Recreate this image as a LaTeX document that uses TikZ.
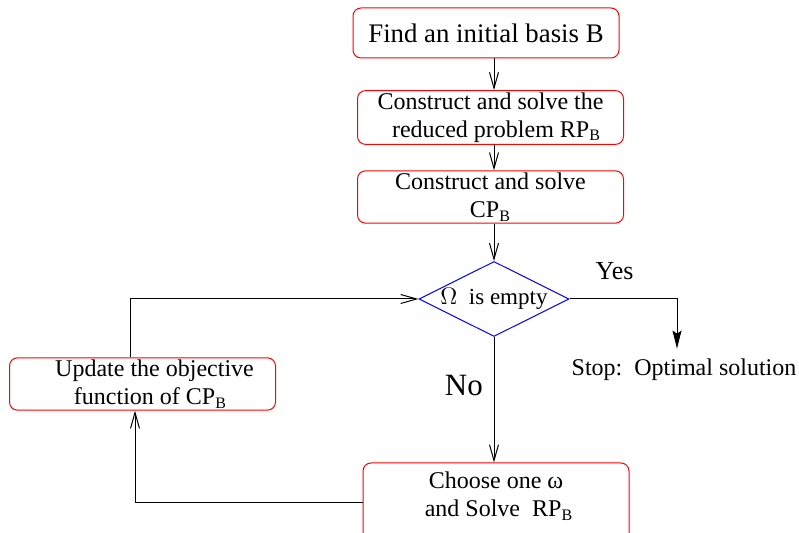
\documentclass[tikz,border=0pt]{standalone}
\usepackage{fontspec}
\setmainfont{Liberation Serif}
\usetikzlibrary{shapes.geometric, positioning, arrows.meta}
\tikzset{
>={Straight Barb[length=8pt,width=4.5pt]}, % thin open arrow heads
every node/.style={font=\fontsize{12}{14}\selectfont}, % text size of the boxes
task/.style={draw=red, rounded corners=4pt, minimum width=133pt, minimum height=25pt, align=center, inner sep=1pt}, % the red boxes
test/.style={diamond, draw=blue, shape aspect=2, minimum width=75pt, minimum height=37.5pt, inner sep=0pt, font=\fontsize{11.5}{13}\selectfont}, % the decision
}

\begin{document}
\begin{tikzpicture}[x=0.5pt, y=-0.5pt, line width=0.5pt]
    \useasboundingbox (0,0) rectangle (799,533);
    \clip (0,0) rectangle (799,533);

    \node[task, font=\fontsize{13.4}{15}\selectfont] (find) at (486,33) {Find an initial basis B};
    \node[task, minimum height=25.5pt] (rp) at (490.5,117.5) {Construct and solve the\\ \ \ reduced problem RP\textsubscript{B}};
    \node[task] (cp) at (490.5,197) {Construct and solve\\CP\textsubscript{B}};
    \node[test] (empty) at (494,299) {$\Omega$\ \ is empty};
    \node[inner sep=5pt] (stop) at (684,370) {Stop:\ \ Optimal solution};
    \node[task] (update) at (142.5,384) {\hspace*{12pt}Update the objective\\ \hspace*{8pt}function of CP\textsubscript{B}};
    \node[task, minimum height=39.5pt] (choose) at (496,502.5) {Choose one ω\\ \ and Solve\ \ RP\textsubscript{B}\\[-6pt]};

    \draw[->] (find.south -| empty.north) -- (rp.north -| empty.north);
    \draw[->] (rp.south -| empty.north) -- (cp.north -| empty.north);
    \draw[->] (cp.south -| empty.north) -- (empty.north);
    \draw[-{Stealth[length=9pt,width=4.5pt,inset=1.5pt]}] (empty.east) -| node[pos=0.21, above=6pt, font=\fontsize{13}{15}\selectfont] {Yes} ([xshift=-3.5pt]stop.north);
    \draw[->] (empty.south) -- node[pos=0.39, left=2pt, font=\fontsize{15.5}{17}\selectfont] {No} (choose.north -| empty.south);
    \draw[->] ([xshift=-6.25pt]update.north) |- (empty.west);
    \draw[->] (choose.west) -| ([xshift=-3.75pt]update.south);

\end{tikzpicture}
\end{document}
